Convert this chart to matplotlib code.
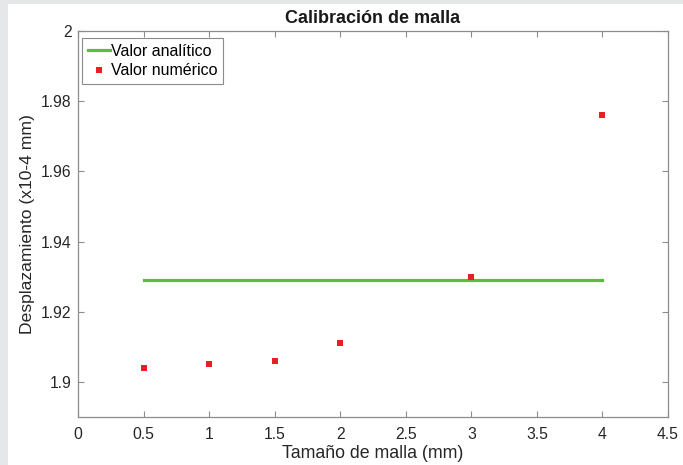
import numpy as np
import matplotlib.pyplot as plt
from matplotlib.patches import Rectangle

plt.rcParams['font.family'] = ['Liberation Sans', 'DejaVu Sans']

# datos
malla = [0.5, 1.0, 1.5, 2.0, 3.0, 4.0]
desp_num = [1.904, 1.905, 1.906, 1.911, 1.930, 1.976]
analitico_x = [0.5, 4.0]
analitico_y = [1.929, 1.929]

xticks = [0, 0.5, 1, 1.5, 2, 2.5, 3, 3.5, 4, 4.5]
xticklabels = ['0', '0.5', '1', '1.5', '2', '2.5', '3', '3.5', '4', '4.5']
yticks = [1.9, 1.92, 1.94, 1.96, 1.98, 2.0]
yticklabels = ['1.9', '1.92', '1.94', '1.96', '1.98', '2']

fig = plt.figure(figsize=(6.83, 4.65), dpi=100)
fig.patch.set_facecolor('#e6e7e8')
fig.patches.append(Rectangle((8 / 683, 0), 1, 1 - 4 / 465, transform=fig.transFigure,
                             facecolor='white', edgecolor='none', zorder=-10))

ax1 = fig.add_axes([78 / 683, 48 / 465, 590 / 683, 386 / 465])
ax1.set_facecolor('white')

ax1.plot(analitico_x, analitico_y, color='#5cbf3c', linewidth=2.3, label='Valor analítico')
ax1.plot(malla, desp_num, linestyle='none', marker='s', markersize=4, color='#ee1c24',
         markeredgewidth=0, label='Valor numérico')

ax1.set_xlim(0, 4.5)
ax1.set_ylim(1.89, 2.0)
ax1.set_xticks(xticks)
ax1.set_xticklabels(xticklabels)
ax1.set_yticks(yticks)
ax1.set_yticklabels(yticklabels)

for s in ax1.spines.values():
    s.set_color('#8c8c8c')
    s.set_linewidth(0.9)
ax1.tick_params(direction='in', top=True, right=True, length=4, width=0.8,
                color='#8c8c8c', labelcolor='#262626', labelsize=11.3, pad=4.5)
ax1.tick_params(axis='x', pad=7)

ax1.set_xlabel('Tamaño de malla (mm)', fontsize=12.8, color='#262626', labelpad=2.5)
ax1.set_ylabel('Desplazamiento (x10-4 mm)', fontsize=12.6, color='#262626', labelpad=4)
ax1.set_title('Calibración de malla', fontsize=13, fontweight='bold', color='#1a1a1a', pad=6)

leg = ax1.legend(loc='upper left', bbox_to_anchor=(0.002, 0.99), fontsize=11.5,
                 frameon=True, fancybox=False, edgecolor='#8c8c8c', framealpha=1,
                 handlelength=1.35, handletextpad=0.1, borderpad=0.35, labelspacing=0.3,
                 borderaxespad=0.2)
leg.get_frame().set_linewidth(0.8)

fig.savefig('out.png', dpi=100, facecolor=fig.get_facecolor())
